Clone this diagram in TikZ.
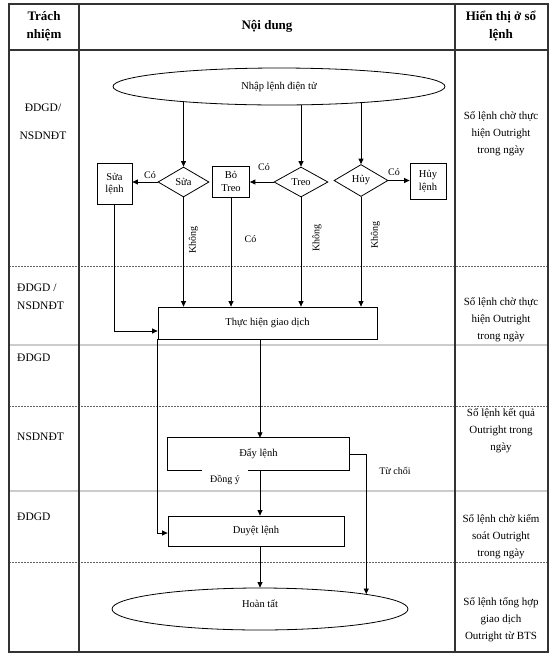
\documentclass[tikz,border=0pt]{standalone}
\usepackage{fontspec}
\setmainfont{Liberation Serif}
\usetikzlibrary{shapes.geometric,arrows.meta,backgrounds}
\begin{document}
\begin{tikzpicture}[x=1pt,y=-1pt,
  txt/.style={font=\fontsize{10.5}{12.5}\selectfont, text=black},
  box/.style={draw, fill=white, line width=0.8pt, inner sep=0pt, txt, align=center},
  dia/.style={draw, fill=white, diamond, aspect=1.8, inner sep=0pt, line width=0.8pt, txt},
  ell/.style={draw, fill=white, ellipse, inner sep=0pt, line width=0.8pt, txt},
  arr/.style={-{Triangle[length=5.5pt,width=5pt]}, line width=0.85pt},
  ln/.style={line width=0.8pt},
  lbl/.style={font=\fontsize{10}{12}\selectfont, inner sep=0pt},
  side/.style={font=\fontsize{11}{17}\selectfont, align=center, inner sep=0pt},
  lside/.style={font=\fontsize{11.5}{18}\selectfont, align=left, inner sep=0pt, anchor=west},
  hdr/.style={font=\bfseries\fontsize{13}{18}\selectfont, align=center, inner sep=0pt},
  tborder/.style={draw=black!80, line width=1.2pt},
  dsep/.style={draw=black!60, line width=0.7pt, dash pattern=on 2pt off 1pt},
  ssep/.style={draw=black!20, line width=1.5pt},
]
\useasboundingbox (0,0) rectangle (553,657);

% headers
\node[hdr] (h1) at (44,26) {Trách\\nhiệm};
\node[hdr] (h2) at (267,26) {Nội dung};
\node[hdr] (h3) at (501,26) {Hiển thị ở sổ\\lệnh};

% left column
\node[font=\fontsize{11.5}{28}\selectfont, align=center, inner sep=0pt] (l1) at (43,122) {ĐDGD/\\NSDNĐT};
\node[lside] (l2) at (17,297) {ĐDGD /\\NSDNĐT};
\node[lside] (l3) at (17,358) {ĐDGD};
\node[lside] (l4) at (17,437) {NSDNĐT};
\node[lside] (l5) at (17,517) {ĐDGD};

% right column
\node[side] (r1) at (501,134) {Sổ lệnh chờ thực\\hiện Outright\\trong ngày};
\node[side] (r2) at (501,320) {Sổ lệnh chờ thực\\hiện Outright\\trong ngày};
\node[side] (r3) at (501,431) {Sổ lệnh kết quả\\Outright trong\\ngày};
\node[side] (r4) at (501,537) {Sổ lệnh chờ kiểm\\soát Outright\\trong ngày};
\node[side] (r5) at (501,620) {Sổ lệnh tổng hợp\\giao dịch\\Outright từ BTS};

% flow nodes
\node[ell, minimum width=332pt, minimum height=37pt] (nhap) at (279,86.5) {Nhập lệnh điện tử};
\node[dia, minimum width=51pt, minimum height=30pt] (sua) at (183.5,182) {Sửa};
\node[dia, minimum width=54pt, minimum height=30pt] (treo) at (301,182) {Treo};
\node[dia, minimum width=54pt, minimum height=32pt] (huy) at (361,180.5) {Hủy};
\node[box, minimum width=35pt, minimum height=41pt] (sualenh) at (114.5,183.5) {Sửa\\lệnh};
\node[box, minimum width=37pt, minimum height=31pt] (botreo) at (231,181.5) {Bỏ\\Treo};
\node[box, minimum width=36pt, minimum height=36pt] (huylenh) at (428,181) {Hủy\\lệnh};
\node[box, minimum width=219pt, minimum height=32pt] (thuc) at (267.5,323) {Thực hiện giao dịch};
\node[txt, inner sep=0pt, minimum width=181pt, minimum height=32pt] (day) at (258.5,454) {Đẩy lệnh};
\node[box, minimum width=176pt, minimum height=30pt] (duyet) at (256,531) {Duyệt lệnh};
\node[ell, minimum width=296pt, minimum height=42pt, text height=6pt, text depth=10pt] (hoan) at (260,609) {Hoàn tất};
\coordinate (spine) at (260,0);

% Đẩy lệnh outline with gap in bottom edge
\draw[ln] ([xshift=34pt]day.south west) -- (day.south west) |- (day.north east) |- ([xshift=80pt]day.south west);

\begin{pgfonlayer}{background}
  % table
  \draw[ssep] (9,345) -- (548,345);
  \draw[ssep] (9,491) -- (548,491);
  \draw[dsep] (9,266) -- (548,266);
  \draw[dsep] (9,406) -- (548,406);
  \draw[dsep] (9,562) -- (548,562);
  \draw[tborder] (9,4) rectangle (548,652);
  \draw[tborder] (79,4) -- (79,652);
  \draw[tborder] (455,4) -- (455,652);
  \draw[tborder] (9,50) -- (548,50);
  % arrows from the input ellipse
  \draw[arr] (sua.north |- nhap.center) -- (sua.north);
  \draw[arr] (treo.north |- nhap.center) -- (treo.north);
  \draw[arr] (huy.north |- nhap.center) -- (huy.north);
\end{pgfonlayer}

% decision branches
\draw[arr] (sua.west) -- (sua.west -| sualenh.east);
\draw[arr] (treo.west) -- (treo.west -| botreo.east);
\draw[arr] (huy.east) -- (huy.east -| huylenh.west);
\node[lbl] (c1) at (150,175) {Có};
\node[lbl] (c2) at (264,167) {Có};
\node[lbl] (c3) at (394,172.5) {Có};

% down to Thực hiện giao dịch
\draw[arr] (sua.south) -- (sua.south |- thuc.north);
\draw[arr] (botreo.south) -- (botreo.south |- thuc.north);
\draw[arr] (treo.south) -- (treo.south |- thuc.north);
\draw[arr] (huy.south) -- (huy.south |- thuc.north);
\draw[arr] (sualenh.south) |- ([yshift=-8pt]thuc.west);
\node[lbl, rotate=90] (k1) at (193.5,240) {Không};
\node[lbl] (c4) at (250.5,239) {Có};
\node[lbl, rotate=90] (k2) at (317,238) {Không};
\node[lbl, rotate=90] (k3) at (375.5,235) {Không};

% lower flow
\draw[arr] (thuc.south -| spine) -- (day.north -| spine);
\draw[arr] (thuc.south west) |- ([yshift=-2pt]duyet.west);
\draw[arr] (day.south -| spine) -- (duyet.north -| spine);
\draw[arr] (duyet.south -| spine) -- (hoan.north);
\draw[arr] (day.east) -| (hoan.8);
\node[lbl] (dy) at (225,480) {Đồng ý};
\node[lbl] (tc) at (395,471) {Từ chối};
\end{tikzpicture}
\end{document}
